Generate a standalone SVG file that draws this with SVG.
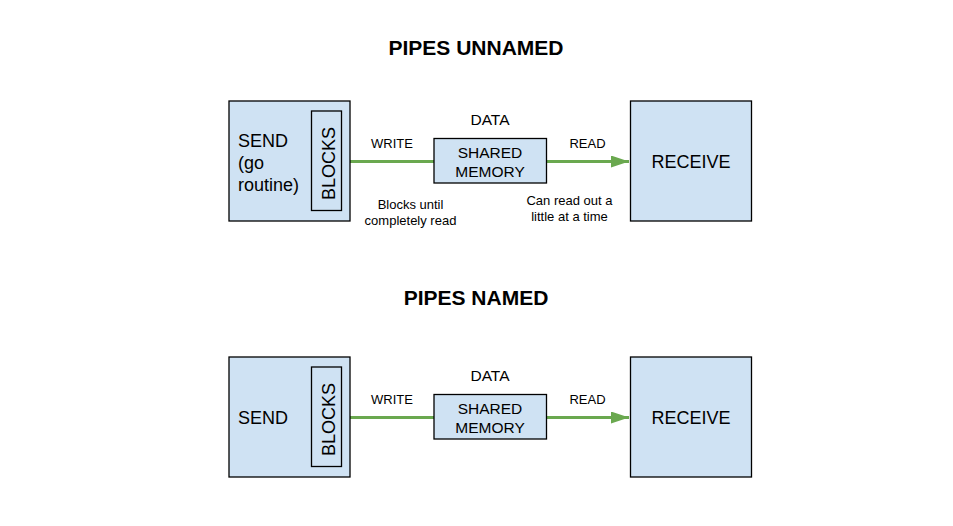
<svg xmlns="http://www.w3.org/2000/svg" width="953" height="526" viewBox="0 0 953 526">
<style>
text{font-family:"Liberation Sans",Arial,sans-serif;fill:#000}
.box{fill:#cfe2f3;stroke:#000;stroke-width:1.3}
.inner{fill:none;stroke:#000;stroke-width:1.3}
.title{font-size:21px;font-weight:bold;text-anchor:middle}
.big{font-size:18px}
.mid{font-size:15.5px;text-anchor:middle}
.sm{font-size:13px;text-anchor:middle}
.conn{stroke:#6aa84f;stroke-width:3;fill:none}
</style>
<defs>
<marker id="arr" viewBox="0 0 18 12" refX="18" refY="6" markerWidth="18" markerHeight="12" markerUnits="userSpaceOnUse" orient="auto">
<path d="M0,0 L18,6 L0,12 Z" fill="#6aa84f"/>
</marker>
</defs>
<rect width="953" height="526" fill="#fff"/>
<text class="title" x="476" y="55">PIPES UNNAMED</text>
<text class="title" x="476" y="305">PIPES NAMED</text>

<g id="connectors">
<line class="conn" x1="350" y1="161.5" x2="434" y2="161.5"/>
<line class="conn" x1="546.5" y1="161.5" x2="629" y2="161.5" marker-end="url(#arr)"/>
<line class="conn" x1="350" y1="417.5" x2="434" y2="417.5"/>
<line class="conn" x1="546.5" y1="417.5" x2="629" y2="417.5" marker-end="url(#arr)"/>
</g>

<g id="send1">
<rect class="box" x="229" y="101" width="121" height="120"/>
<text class="big" x="238" y="147">SEND</text>
<text class="big" x="238" y="169">(go</text>
<text class="big" x="238" y="191">routine)</text>
</g>
<g id="blocks1">
<rect class="inner" x="311.5" y="111" width="30" height="99.5"/>
<text class="big" text-anchor="middle" transform="translate(334.5,163.5) rotate(-90)">BLOCKS</text>
</g>
<g id="mem1">
<rect class="box" x="434" y="138.5" width="112.5" height="44.5"/>
<text class="mid" x="490" y="158">SHARED</text>
<text class="mid" x="490" y="176.5">MEMORY</text>
</g>
<g id="recv1">
<rect class="box" x="630.5" y="101" width="121" height="120"/>
<text class="big" text-anchor="middle" x="691" y="168">RECEIVE</text>
</g>
<g id="labels1">
<text class="mid" x="490" y="125">DATA</text>
<text class="sm" x="392" y="147.5">WRITE</text>
<text class="sm" x="587.5" y="147.5">READ</text>
<text class="sm" x="410.5" y="209">Blocks until</text>
<text class="sm" x="410.5" y="225">completely read</text>
<text class="sm" x="569.5" y="205">Can read out a</text>
<text class="sm" x="569.5" y="221">little at a time</text>
</g>

<g id="send2">
<rect class="box" x="229" y="357" width="121" height="120"/>
<text class="big" x="238" y="424">SEND</text>
</g>
<g id="blocks2">
<rect class="inner" x="311.5" y="367" width="30" height="99.5"/>
<text class="big" text-anchor="middle" transform="translate(334.5,419.5) rotate(-90)">BLOCKS</text>
</g>
<g id="mem2">
<rect class="box" x="434" y="394.5" width="112.5" height="44.5"/>
<text class="mid" x="490" y="414">SHARED</text>
<text class="mid" x="490" y="432.5">MEMORY</text>
</g>
<g id="recv2">
<rect class="box" x="630.5" y="357" width="121" height="120"/>
<text class="big" text-anchor="middle" x="691" y="424">RECEIVE</text>
</g>
<g id="labels2">
<text class="mid" x="490" y="381">DATA</text>
<text class="sm" x="392" y="403.5">WRITE</text>
<text class="sm" x="587.5" y="403.5">READ</text>
</g>
</svg>
